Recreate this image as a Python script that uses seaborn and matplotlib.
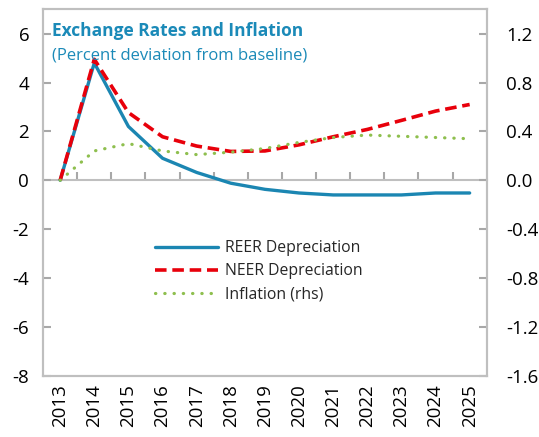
import numpy as np
import pandas as pd
import seaborn as sns
import matplotlib.pyplot as plt
import matplotlib.ticker as mticker

#========================================================================================================
# Data
#========================================================================================================

years = ['2013','2014','2015','2016','2017','2018','2019','2020','2021','2022','2023','2024','2025']
reer = [0.0, 4.8, 2.2, 0.9, 0.32, -0.12, -0.37, -0.52, -0.6, -0.6, -0.6, -0.52, -0.52]
neer = [0.0, 4.95, 2.77, 1.78, 1.4, 1.18, 1.2, 1.45, 1.78, 2.08, 2.45, 2.83, 3.1]
inflation = [0.0, 0.24, 0.30, 0.24, 0.21, 0.23, 0.26, 0.31, 0.35, 0.37, 0.36, 0.35, 0.34]

#========================================================================================================
# Plot
#========================================================================================================

sns.set_style("ticks")
plt.rcParams['font.family'] = ['Open Sans', 'DejaVu Sans']
plt.rcParams['axes.unicode_minus'] = False

df = pd.DataFrame({'year': years, 'REER Depreciation': reer,
                   'NEER Depreciation': neer, 'Inflation (rhs)': inflation})
df['x'] = np.arange(len(years))

fig, ax = plt.subplots(figsize=(5.39, 4.37), dpi=100)
fig.subplots_adjust(left=0.08, right=0.903, top=0.979, bottom=0.14)
ax2 = ax.twinx()

sns.lineplot(data=df, x='x', y='REER Depreciation', ax=ax, color='#1b86b2',
             linewidth=2.4, label='REER Depreciation', legend=False)
sns.lineplot(data=df, x='x', y='NEER Depreciation', ax=ax, color='#e8000b',
             linewidth=2.6, label='NEER Depreciation', legend=False)
ax.lines[-1].set_dashes([3.2, 1.6])
sns.lineplot(data=df, x='x', y='Inflation (rhs)', ax=ax2, color='#8ebf4e',
             linewidth=2.3, label='Inflation (rhs)', legend=False)
ax2.lines[-1].set_dashes([0.1, 2.8])
ax2.lines[-1].set_dash_capstyle('round')

#Axis limits and ticks
ax.set_xlim(-0.5, len(years) - 0.5)
ax.set_ylim(-8, 7)
ax2.set_ylim(-1.6, 1.4)
ax.set_yticks(np.arange(-8, 7, 2))
ax2.set_yticks(np.round(np.arange(-1.6, 1.3, 0.4), 1))
ax2.yaxis.set_major_formatter(mticker.FuncFormatter(lambda v, p: f"{v + 0.0:.1f}".replace('-0.0', '0.0')))
ax.set_xticks(df['x'])
ax.set_xticklabels(years, rotation=90)
ax.set_xlabel('')
ax.set_ylabel('')
ax2.set_ylabel('')

frame_col = '#bfbfbf'
tick_col = '#a8a8a8'
for a in (ax, ax2):
    for s in a.spines.values():
        s.set_visible(True)
        s.set_color(frame_col)
        s.set_linewidth(1.5)
ax.tick_params(axis='x', which='both', length=0, labelsize=13.5, pad=6,
               labelcolor='black')
ax.tick_params(axis='y', direction='in', length=6, width=1.5, color=tick_col,
               labelsize=13.5, pad=10, labelcolor='black')
ax2.tick_params(axis='y', direction='in', length=6, width=1.5, color=tick_col,
                labelsize=13.5, pad=14, labelcolor='black')

#Zero line with category boundary ticks
zero_frac = (0 - (-8)) / (7 - (-8))
secax = ax.secondary_xaxis(zero_frac)
secax.set_xticks(np.arange(0.5, len(years) - 1, 1.0))
secax.set_xticklabels([])
secax.tick_params(axis='x', direction='out', length=6, width=1.5, color=tick_col,
                  top=True, bottom=False, labeltop=False, labelbottom=False)
for s in secax.spines.values():
    s.set_color(frame_col)
    s.set_linewidth(1.5)

#Title
ax.text(0.02, 0.965, 'Exchange Rates and Inflation', transform=ax.transAxes,
        fontsize=12.5, fontweight='bold', color='#1b8ab8', va='top', ha='left')
ax.text(0.02, 0.895, '(Percent deviation from baseline)', transform=ax.transAxes,
        fontsize=12, color='#1b8ab8', va='top', ha='left')

#Legend
h1, l1 = ax.get_legend_handles_labels()
h2, l2 = ax2.get_legend_handles_labels()
ax.legend(h1 + h2, l1 + l2, loc='center left', bbox_to_anchor=(0.22, 0.285),
          frameon=False, fontsize=11.3, handlelength=4.0, handletextpad=0.5,
          labelspacing=0.45)

plt.savefig('out.png', dpi=100)
plt.close()
